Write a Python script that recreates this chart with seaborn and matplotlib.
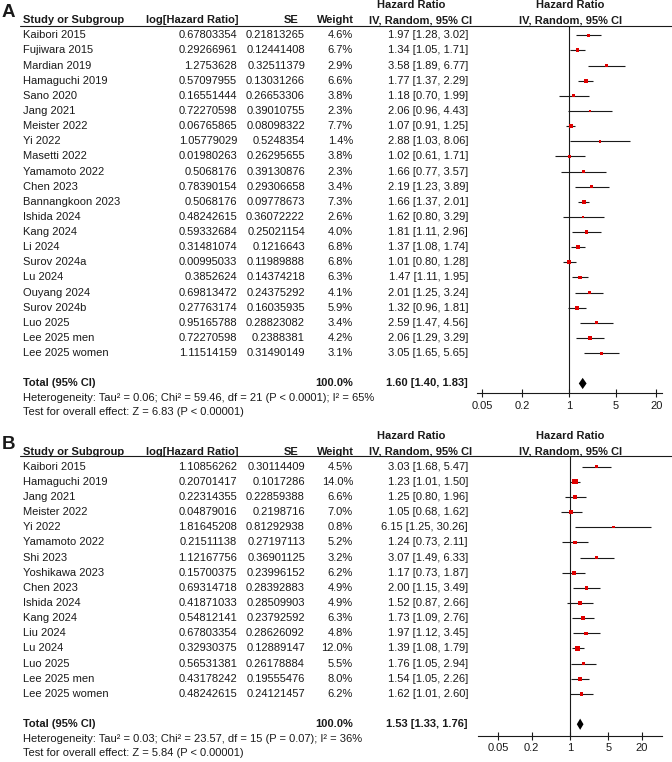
import numpy as np
import pandas as pd
import matplotlib
matplotlib.use("Agg")
import matplotlib.pyplot as plt
import matplotlib.transforms as mtransforms
from matplotlib.lines import Line2D
from matplotlib.ticker import NullLocator, FixedLocator, FixedFormatter
import seaborn as sns

# ---------------- Panel A data ----------------
a_study = ["Kaibori 2015", "Fujiwara 2015", "Mardian 2019", "Hamaguchi 2019", "Sano 2020",
           "Jang 2021", "Meister 2022", "Yi 2022", "Masetti 2022", "Yamamoto 2022",
           "Chen 2023", "Bannangkoon 2023", "Ishida 2024", "Kang 2024", "Li 2024",
           "Surov 2024a", "Lu 2024", "Ouyang 2024", "Surov 2024b", "Luo 2025",
           "Lee 2025 men", "Lee 2025 women"]
a_loghr = ["0.67803354", "0.29266961", "1.2753628", "0.57097955", "0.16551444",
           "0.72270598", "0.06765865", "1.05779029", "0.01980263", "0.5068176",
           "0.78390154", "0.5068176", "0.48242615", "0.59332684", "0.31481074",
           "0.00995033", "0.3852624", "0.69813472", "0.27763174", "0.95165788",
           "0.72270598", "1.11514159"]
a_se = ["0.21813265", "0.12441408", "0.32511379", "0.13031266", "0.26653306",
        "0.39010755", "0.08098322", "0.5248354", "0.26295655", "0.39130876",
        "0.29306658", "0.09778673", "0.36072222", "0.25021154", "0.1216643",
        "0.11989888", "0.14374218", "0.24375292", "0.16035935", "0.28823082",
        "0.2388381", "0.31490149"]
a_weight = [4.6, 6.7, 2.9, 6.6, 3.8, 2.3, 7.7, 1.4, 3.8, 2.3, 3.4, 7.3, 2.6, 4.0, 6.8,
            6.8, 6.3, 4.1, 5.9, 3.4, 4.2, 3.1]
a_hr = [1.97, 1.34, 3.58, 1.77, 1.18, 2.06, 1.07, 2.88, 1.02, 1.66, 2.19, 1.66, 1.62,
        1.81, 1.37, 1.01, 1.47, 2.01, 1.32, 2.59, 2.06, 3.05]
a_lo = [1.28, 1.05, 1.89, 1.37, 0.70, 0.96, 0.91, 1.03, 0.61, 0.77, 1.23, 1.37, 0.80,
        1.11, 1.08, 0.80, 1.11, 1.25, 0.96, 1.47, 1.29, 1.65]
a_hi = [3.02, 1.71, 6.77, 2.29, 1.99, 4.43, 1.25, 8.06, 1.71, 3.57, 3.89, 2.01, 3.29,
        2.96, 1.74, 1.28, 1.95, 3.24, 1.81, 4.56, 3.29, 5.65]
a_total = [1.60, 1.40, 1.83]
a_het = "Heterogeneity: Tau² = 0.06; Chi² = 59.46, df = 21 (P < 0.0001); I² = 65%"
a_test = "Test for overall effect: Z = 6.83 (P < 0.00001)"

# ---------------- Panel B data ----------------
b_study = ["Kaibori 2015", "Hamaguchi 2019", "Jang 2021", "Meister 2022", "Yi 2022",
           "Yamamoto 2022", "Shi 2023", "Yoshikawa 2023", "Chen 2023", "Ishida 2024",
           "Kang 2024", "Liu 2024", "Lu 2024", "Luo 2025", "Lee 2025 men", "Lee 2025 women"]
b_loghr = ["1.10856262", "0.20701417", "0.22314355", "0.04879016", "1.81645208",
           "0.21511138", "1.12167756", "0.15700375", "0.69314718", "0.41871033",
           "0.54812141", "0.67803354", "0.32930375", "0.56531381", "0.43178242",
           "0.48242615"]
b_se = ["0.30114409", "0.1017286", "0.22859388", "0.2198716", "0.81292938",
        "0.27197113", "0.36901125", "0.23996152", "0.28392883", "0.28509903",
        "0.23792592", "0.28626092", "0.12889147", "0.26178884", "0.19555476",
        "0.24121457"]
b_weight = [4.5, 14.0, 6.6, 7.0, 0.8, 5.2, 3.2, 6.2, 4.9, 4.9, 6.3, 4.8, 12.0, 5.5, 8.0, 6.2]
b_hr = [3.03, 1.23, 1.25, 1.05, 6.15, 1.24, 3.07, 1.17, 2.00, 1.52, 1.73, 1.97, 1.39,
        1.76, 1.54, 1.62]
b_lo = [1.68, 1.01, 0.80, 0.68, 1.25, 0.73, 1.49, 0.73, 1.15, 0.87, 1.09, 1.12, 1.08,
        1.05, 1.05, 1.01]
b_hi = [5.47, 1.50, 1.96, 1.62, 30.26, 2.11, 6.33, 1.87, 3.49, 2.66, 2.76, 3.45, 1.79,
        2.94, 2.26, 2.60]
b_total = [1.53, 1.33, 1.76]
b_het = "Heterogeneity: Tau² = 0.03; Chi² = 23.57, df = 15 (P = 0.07); I² = 36%"
b_test = "Test for overall effect: Z = 5.84 (P < 0.00001)"

tick_vals = [0.05, 0.2, 1, 5, 20]
tick_labels = ["0.05", "0.2", "1", "5", "20"]

# ---------------- Style ----------------
sns.set_theme(style="white")
plt.rcParams["font.family"] = ["Liberation Sans", "DejaVu Sans"]
INK = "#1a1a1a"
FS = 8.0
W, H = 672, 762

fig = plt.figure(figsize=(W / 100, H / 100), dpi=100)


def fx(px):
    return px / W


def panel(label, study, loghr, se, weight, hr, lo, hi, total, het, test,
          rect_px, xlim, ylim):
    x0, y_top, x1, y_bot = rect_px
    ax = fig.add_axes([fx(x0), 1 - y_bot / H, fx(x1 - x0), (y_bot - y_top) / H])
    n = len(study)
    df = pd.DataFrame({"row": np.arange(n), "hr": hr, "lo": lo, "hi": hi,
                       "weight": weight})
    ax.set_xscale("log")
    ax.hlines(df["row"], df["lo"], df["hi"], color=INK, lw=0.8, zorder=2)
    sns.scatterplot(data=df, x="hr", y="row", size="weight", sizes=(2, 15),
                    size_norm=(0, 15), marker="s", color="#e00000", linewidth=0,
                    legend=False, ax=ax, zorder=3)
    tr = n + 1
    t_hr, t_lo, t_hi = total
    ax.fill([t_lo, t_hr, t_hi, t_hr], [tr, tr - 0.37, tr, tr + 0.37],
            color="black", lw=0, zorder=3)
    ax.axvline(1, color=INK, lw=0.8, zorder=1)
    ax.set_xlim(*xlim)
    ax.set_ylim(*ylim)
    ax.set_xlabel("")
    ax.set_ylabel("")
    for s in ["top", "left", "right"]:
        ax.spines[s].set_visible(False)
    ax.spines["bottom"].set_color(INK)
    ax.spines["bottom"].set_linewidth(0.8)
    ax.xaxis.set_major_locator(FixedLocator(tick_vals))
    ax.xaxis.set_major_formatter(FixedFormatter(tick_labels))
    ax.xaxis.set_minor_locator(NullLocator())
    ax.tick_params(axis="x", which="major", direction="inout", length=6,
                   width=0.8, color=INK, labelsize=FS, labelcolor=INK, pad=2.5,
                   bottom=True)
    ax.set_yticks([])
    ax.patch.set_alpha(0)

    trans = mtransforms.blended_transform_factory(fig.transFigure, ax.transData)

    def t(xpx, row, s, ha="left", bold=False, size=FS):
        fig.text(fx(xpx), row, s, transform=trans, ha=ha, va="center",
                 fontsize=size, color=INK,
                 fontweight="bold" if bold else "normal")

    # panel letter
    t(1.5, -1.48, label, size=13.5, bold=True)
    # headers
    t(411, -2.0, "Hazard Ratio", ha="center", bold=True)
    t(570, -2.0, "Hazard Ratio", ha="center", bold=True)
    t(23, -1.0, "Study or Subgroup", bold=True)
    t(146, -1.0, "log[Hazard Ratio]", bold=True)
    t(298, -1.0, "SE", ha="right", bold=True)
    t(354, -1.0, "Weight", ha="right", bold=True)
    t(420.5, -1.0, "IV, Random, 95% CI", ha="center", bold=True)
    t(570.5, -1.0, "IV, Random, 95% CI", ha="center", bold=True)
    # header line
    yl = ax.get_position().y1
    fig.add_artist(Line2D([fx(20), 1.0], [yl, yl], transform=fig.transFigure,
                          color=INK, lw=0.8))
    # rows
    for i in range(n):
        t(23, i, study[i])
        t(237, i, loghr[i], ha="right")
        t(305, i, se[i], ha="right")
        t(353, i, f"{weight[i]:.1f}%", ha="right")
        t(468, i, f"{hr[i]:.2f} [{lo[i]:.2f}, {hi[i]:.2f}]", ha="right")
    t(23, tr, "Total (95% CI)", bold=True)
    t(353, tr, "100.0%", ha="right", bold=True)
    t(468, tr, f"{t_hr:.2f} [{t_lo:.2f}, {t_hi:.2f}]", ha="right", bold=True)
    t(23, tr + 0.97, het)
    t(23, tr + 1.9, test)
    return ax


# Panel A: row i at 35.3 + 15.14*i px; 1 at x=569, 67 px/decade
panel("A", a_study, a_loghr, a_se, a_weight, a_hr, a_lo, a_hi, a_total, a_het, a_test,
      (477, 26, 662, 393.3), (10 ** (-92 / 67), 10 ** (93 / 67)), (23.65, -0.614))

# Panel B: row i at 466.7 + 15.15*i px; 1 at x=570, 55 px/decade
panel("B", b_study, b_loghr, b_se, b_weight, b_hr, b_lo, b_hi, b_total, b_het, b_test,
      (478, 455.5, 662, 735.7), (10 ** (-92 / 55), 10 ** (92 / 55)), (17.756, -0.739))

fig.savefig("out.png", dpi=100, facecolor="white")
